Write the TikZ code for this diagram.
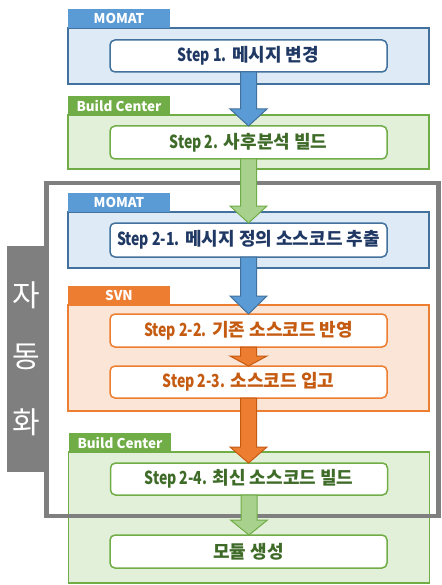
\documentclass[tikz,border=0pt]{standalone}
\usepackage{fontspec}
\setmainfont{Noto Sans CJK KR}
\usetikzlibrary{calc}
\definecolor{bTab}{HTML}{5B9BD5}
\definecolor{bFill}{HTML}{DEEBF7}
\definecolor{bLine}{HTML}{41719C}
\definecolor{bText}{HTML}{1F3864}
\definecolor{gTab}{HTML}{70AD47}
\definecolor{gFill}{HTML}{E2F0D9}
\definecolor{gLine}{HTML}{70AD47}
\definecolor{gArrow}{HTML}{A9D18E}
\definecolor{gText}{HTML}{3F6B28}
\definecolor{oTab}{HTML}{ED7D31}
\definecolor{oFill}{HTML}{FBE5D6}
\definecolor{oLine}{HTML}{ED7D31}
\definecolor{oDark}{HTML}{C55A11}
\definecolor{frameGray}{HTML}{7F7F7F}
\newcommand{\stp}[1]{{\addfontfeatures{FakeStretch=0.78}#1}}
\tikzset{
  tabbox/.style={fill=#1, inner sep=0, outer sep=0, minimum width=102pt, minimum height=19pt,
    text=white, font=\fontsize{13.5}{14}\selectfont\bfseries},
  contbox/.style n args={2}{fill=#1, draw=#2, line width=1.4pt, inner sep=0, outer sep=0, minimum width=361pt},
  stepbox/.style n args={2}{fill=white, draw=#1, text=#2, line width=1.5pt, rounded corners=5pt,
    inner sep=0, outer sep=0, minimum width=277pt, font=\fontsize{18}{19}\selectfont\bfseries},
  blockarrow/.style n args={2}{fill=#1, draw=#2, line width=1pt, line join=miter},
  autotext/.style={text=white, font=\fontsize{30}{31}\selectfont},
}
\newcommand{\blockarr}[5]{% style args, from, to, head length, head half width
  \path let \p1=(#2), \p2=(#3) in
    [blockarrow={#1}] (\x1-8pt,\y1) -- (\x1-8pt,\y2+#4) -- (\x1-#5,\y2+#4) -- (\x1,\y2)
    -- (\x1+#5,\y2+#4) -- (\x1+8pt,\y2+#4) -- (\x1+8pt,\y1) -- cycle;}
\begin{document}
\begin{tikzpicture}[x=1pt,y=-1pt]
\useasboundingbox (0,0) rectangle (441,585);
% containers
\node[contbox={bFill}{bLine}, minimum height=56pt] (c1) at (248.5,56) {};
\node[tabbox=bTab] (t1) at (119,18.5) {MOMAT};
\node[contbox={gFill}{gLine}, minimum height=54pt] (c2) at (248.5,142) {};
\node[tabbox=gTab] (t2) at (119,105.5) {Build Center};
\node[contbox={bFill}{bLine}, minimum height=56pt] (c3) at (248.5,240) {};
\node[tabbox=bTab] (t3) at (119,202.5) {MOMAT};
\node[contbox={oFill}{oLine}, minimum height=106pt] (c4) at (248.5,358) {};
\node[tabbox=oTab] (t4) at (119,295.5) {SVN};
\node[contbox={gFill}{gLine}, minimum height=131pt] (c5) at (249,517.5) {};
\node[tabbox=gTab] (t5) at (120,442.5) {Build Center};
% automation frame
\node[draw=frameGray, line width=4.5pt, inner sep=0, outer sep=0, minimum width=392pt, minimum height=333pt] (auto) at (242.25,349.5) {};
\node[fill=frameGray, inner sep=0, outer sep=0, minimum width=41pt, minimum height=226pt] (autotab) at (27.5,359) {};
\node[autotext] (a1) at (26.5,295) {자};
\node[autotext] (a2) at (26.5,357) {동};
\node[autotext] (a3) at (26.5,422) {화};
% steps
\node[stepbox={bLine}{bText}, minimum height=32pt] (s1) at (248.5,56) {\stp{Step 1.} 메시지 변경};
\node[stepbox={gLine}{gText}, minimum height=33pt] (s2) at (248.5,142.5) {\stp{Step 2.} 사후분석 빌드};
\node[stepbox={bLine}{bText}, minimum height=34pt] (s21) at (248.5,240) {\stp{Step 2-1.} 메시지 정의 소스코드 추출};
\node[stepbox={oLine}{oDark}, minimum height=33pt] (s22) at (248.5,330.5) {\stp{Step 2-2.} 기존 소스코드 반영};
\node[stepbox={oLine}{oDark}, minimum height=32pt] (s23) at (248.5,382) {\stp{Step 2-3.} 소스코드 입고};
\node[stepbox={gLine}{gText}, minimum height=32pt] (s24) at (249,479) {\stp{Step 2-4.} 최신 소스코드 빌드};
\node[stepbox={gLine}{gText}, minimum height=33pt] (s3) at (248.5,551.5) {모듈 생성};
% arrows
\blockarr{{bTab}{bLine}}{s1.south}{s2.north}{17pt}{18.5pt}
\blockarr{{gArrow}{gLine}}{s2.south}{s21.north}{17pt}{18.5pt}
\blockarr{{bTab}{bLine}}{s21.south}{s22.north}{18pt}{18.5pt}
\blockarr{{oTab}{oDark}}{s22.south}{s23.north}{10pt}{18.5pt}
\blockarr{{oTab}{oDark}}{s23.south}{s24.north}{16pt}{18.5pt}
\blockarr{{gArrow}{gLine}}{s24.south}{s3.north}{15pt}{18.5pt}
\end{tikzpicture}
\end{document}
